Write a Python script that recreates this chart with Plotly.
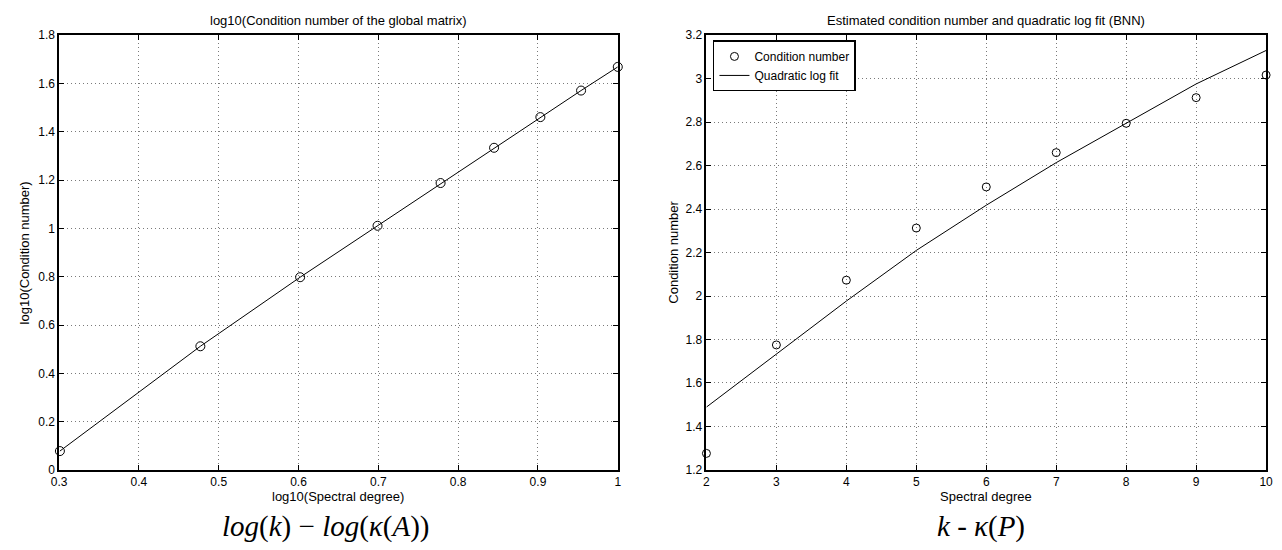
import plotly.graph_objects as go

# ---- data ----
spectral_degree = [2, 3, 4, 5, 6, 7, 8, 9, 10]
log_spectral_degree = [0.301, 0.477, 0.602, 0.699, 0.778, 0.845, 0.903, 0.954, 1.0]
log_condition_global = [0.078, 0.512, 0.798, 1.011, 1.188, 1.334, 1.461, 1.571, 1.669]

condition_number = [1.276, 1.775, 2.073, 2.313, 2.502, 2.660, 2.795, 2.913, 3.017]
quadratic_log_fit = [1.489, 1.732, 1.977, 2.210, 2.418, 2.614, 2.796, 2.976, 3.130]

left_xticks = [0.3, 0.4, 0.5, 0.6, 0.7, 0.8, 0.9, 1.0]
left_xticklabels = ["0.3", "0.4", "0.5", "0.6", "0.7", "0.8", "0.9", "1"]
left_yticks = [0, 0.2, 0.4, 0.6, 0.8, 1.0, 1.2, 1.4, 1.6, 1.8]
left_yticklabels = ["0", "0.2", "0.4", "0.6", "0.8", "1", "1.2", "1.4", "1.6", "1.8"]
right_xticks = [2, 3, 4, 5, 6, 7, 8, 9, 10]
right_xticklabels = ["2", "3", "4", "5", "6", "7", "8", "9", "10"]
right_yticks = [1.2, 1.4, 1.6, 1.8, 2.0, 2.2, 2.4, 2.6, 2.8, 3.0, 3.2]
right_yticklabels = ["1.2", "1.4", "1.6", "1.8", "2", "2.2", "2.4", "2.6", "2.8", "3", "3.2"]

W, H = 1282, 550
SANS = "Liberation Sans, Arial, Helvetica, sans-serif"
SERIF = "Liberation Serif, Times New Roman, serif"

fig = go.Figure()

fig.add_trace(go.Scatter(
    x=log_spectral_degree, y=log_condition_global, mode="lines+markers",
    line=dict(color="black", width=1),
    marker=dict(symbol="circle-open", size=9, color="black", line=dict(width=1)),
    cliponaxis=False, showlegend=False, xaxis="x", yaxis="y"))

fig.add_trace(go.Scatter(
    x=spectral_degree, y=condition_number, mode="markers", name="Condition number",
    marker=dict(symbol="circle-open", size=8, color="black", line=dict(width=1)),
    cliponaxis=False, xaxis="x2", yaxis="y2"))

fig.add_trace(go.Scatter(
    x=spectral_degree, y=quadratic_log_fit, mode="lines", name="Quadratic log fit",
    line=dict(color="black", width=1),
    cliponaxis=False, xaxis="x2", yaxis="y2"))

y_dom = [(H - 475) / H, (H - 29) / H]
lx = [51.7 / W, 617 / W]
rx = [706.7 / W, 1273 / W]

axis_common = dict(
    showline=True, linecolor="black", linewidth=1.5, mirror="allticks",
    ticks="inside", ticklen=5, tickwidth=1, tickcolor="black",
    showgrid=True, gridcolor="#7a7a7a", griddash="1px,3px", gridwidth=1,
    zeroline=False, tickfont=dict(family=SANS, size=12, color="black"),
)

fig.update_layout(
    width=W, height=H,
    margin=dict(l=0, r=0, t=0, b=0),
    paper_bgcolor="white", plot_bgcolor="white",
    xaxis=dict(domain=lx, range=[0.3, 1.0], tickvals=left_xticks, ticktext=left_xticklabels,
               anchor="y", **axis_common),
    yaxis=dict(domain=y_dom, range=[0, 1.8], tickvals=left_yticks, ticktext=left_yticklabels,
               anchor="x", **axis_common),
    xaxis2=dict(domain=rx, range=[2, 10], tickvals=right_xticks, ticktext=right_xticklabels,
                anchor="y2", **axis_common),
    yaxis2=dict(domain=y_dom, range=[1.2, 3.2], tickvals=right_yticks, ticktext=right_yticklabels,
                anchor="x2", **axis_common),
    legend=dict(x=713.3 / W, y=1 - 34.3 / H, xanchor="left", yanchor="top",
                bgcolor="white", bordercolor="black", borderwidth=1.5,
                font=dict(family=SANS, size=12, color="black"),
                tracegroupgap=0, itemwidth=30),
    showlegend=True,
)

def ann(text, x, y, size, family=SANS, angle=0):
    fig.add_annotation(text=text, x=x / W, y=1 - y / H, xref="paper", yref="paper",
                       showarrow=False, xanchor="center", yanchor="middle",
                       textangle=angle, font=dict(family=family, size=size, color="black"))

# titles
ann("log10(Condition number of the global matrix)", (lx[0] + lx[1]) / 2 * W, 14, 13)
ann("Estimated condition number and quadratic log fit (BNN)", (rx[0] + rx[1]) / 2 * W, 14, 13)
# axis titles
ann("log10(Spectral degree)", (lx[0] + lx[1]) / 2 * W, 502, 13)
ann("Spectral degree", (rx[0] + rx[1]) / 2 * W, 502, 13)
ann("log10(Condition number)", 17, 252, 13, angle=-90)
ann("Condition number", 673, 252, 13, angle=-90)
# captions
ann("<i>log</i>(<i>k</i>) − <i>log</i>(<i>κ</i>(<i>A</i>))", 321.5, 533, 29, family=SERIF)
ann("<i>k</i> - <i>κ</i>(<i>P</i>)", 985, 533, 29, family=SERIF)

fig.write_html(
    "out.html",
    config={"displayModeBar": False},
    post_script="document.body.style.margin='0';document.body.style.overflow='hidden';",
)
